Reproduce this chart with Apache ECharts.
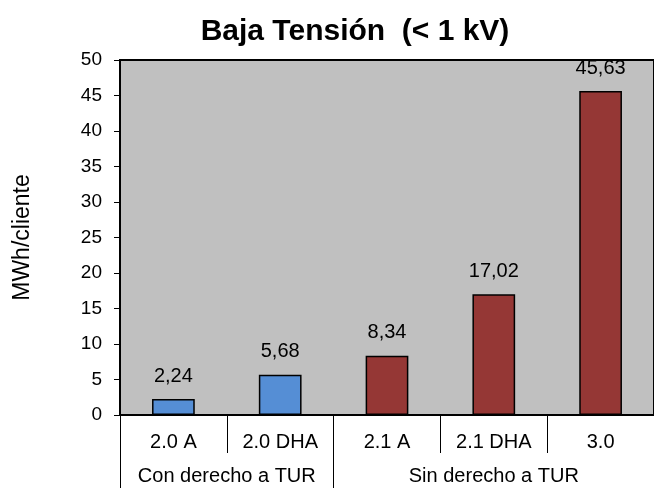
<!DOCTYPE html>
<html><head><meta charset="utf-8">
<script src="https://cdn.jsdelivr.net/npm/echarts@6/dist/echarts.min.js"></script>
<style>html,body{margin:0;padding:0;background:#fff}#c{width:654px;height:488px}</style>
</head><body><div id="c"></div>
<script>
const titleText = 'Baja Tensión  (< 1 kV)';
const yAxisName = 'MWh/cliente';
const categories = ['2.0 A', '2.0 DHA', '2.1 A', '2.1 DHA', '3.0'];
const values = [2.24, 5.68, 8.34, 17.02, 45.63];
const groupNames = ['Con derecho a TUR', 'Sin derecho a TUR'];
const groupSizes = [2, 3];
const groupColors = ['#558ED5', '#953735'];
const yMin = 0, yMax = 50, yStep = 5;

// group boundaries and centres (in category units)
const bounds = [0];
groupSizes.forEach(s => bounds.push(bounds[bounds.length - 1] + s));
const centers = groupSizes.map((s, i) => bounds[i] + s / 2);
const groupOf = [];
groupSizes.forEach((s, g) => { for (let k = 0; k < s; k++) groupOf.push(g); });

const font = 'Liberation Sans, Arial, sans-serif';
const chart = echarts.init(document.getElementById('c'), null, {renderer: 'canvas'});
chart.setOption({
  animation: false,
  backgroundColor: '#fff',
  title: {
    text: titleText, left: 350, top: 12, textAlign: 'center',
    textStyle: {fontFamily: font, fontSize: 30, fontWeight: 'bold', color: '#000'}
  },
  grid: {
    left: 120, top: 60, right: -1, bottom: 73, show: true,
    backgroundColor: '#C0C0C0', borderColor: '#000', borderWidth: 2
  },
  xAxis: [{
    type: 'category', data: categories, position: 'bottom',
    axisLine: {show: true, lineStyle: {color: '#000', width: 2}},
    axisTick: {show: true, interval: 0, length: 38, lineStyle: {color: '#000', width: 1}},
    axisLabel: {interval: 0, margin: 17, fontFamily: font, fontSize: 20, color: '#000'},
    splitLine: {show: false}
  }, {
    type: 'value', min: bounds[0], max: bounds[bounds.length - 1], position: 'bottom', offset: 38,
    axisLine: {show: false},
    axisTick: {show: true, customValues: bounds, length: 42, lineStyle: {color: '#000', width: 1}},
    axisLabel: {
      customValues: centers, margin: 13, fontFamily: font, fontSize: 20, color: '#000',
      formatter: v => { const i = centers.indexOf(v); return i >= 0 ? groupNames[i] : ''; }
    },
    splitLine: {show: false}
  }],
  yAxis: {
    type: 'value', min: yMin, max: yMax, interval: yStep,
    name: yAxisName, nameLocation: 'middle', nameGap: 86, nameRotate: 90,
    nameTextStyle: {fontFamily: font, fontSize: 23, color: '#000'},
    axisLine: {show: true, lineStyle: {color: '#000', width: 2}},
    axisTick: {show: true, length: 6, lineStyle: {color: '#000', width: 1}},
    axisLabel: {margin: 18, fontFamily: font, fontSize: 19, color: '#000'},
    splitLine: {show: false}
  },
  series: [{
    type: 'bar', xAxisIndex: 0, barWidth: '40%',
    data: values.map((v, i) => ({value: v, itemStyle: {color: groupColors[groupOf[i]]}})),
    itemStyle: {borderColor: '#000', borderWidth: 1.5},
    label: {
      show: true, position: 'top', distance: 13,
      fontFamily: font, fontSize: 20, color: '#000',
      formatter: p => p.value.toFixed(2).replace('.', ',')
    }
  }]
});
</script>
</body></html>
